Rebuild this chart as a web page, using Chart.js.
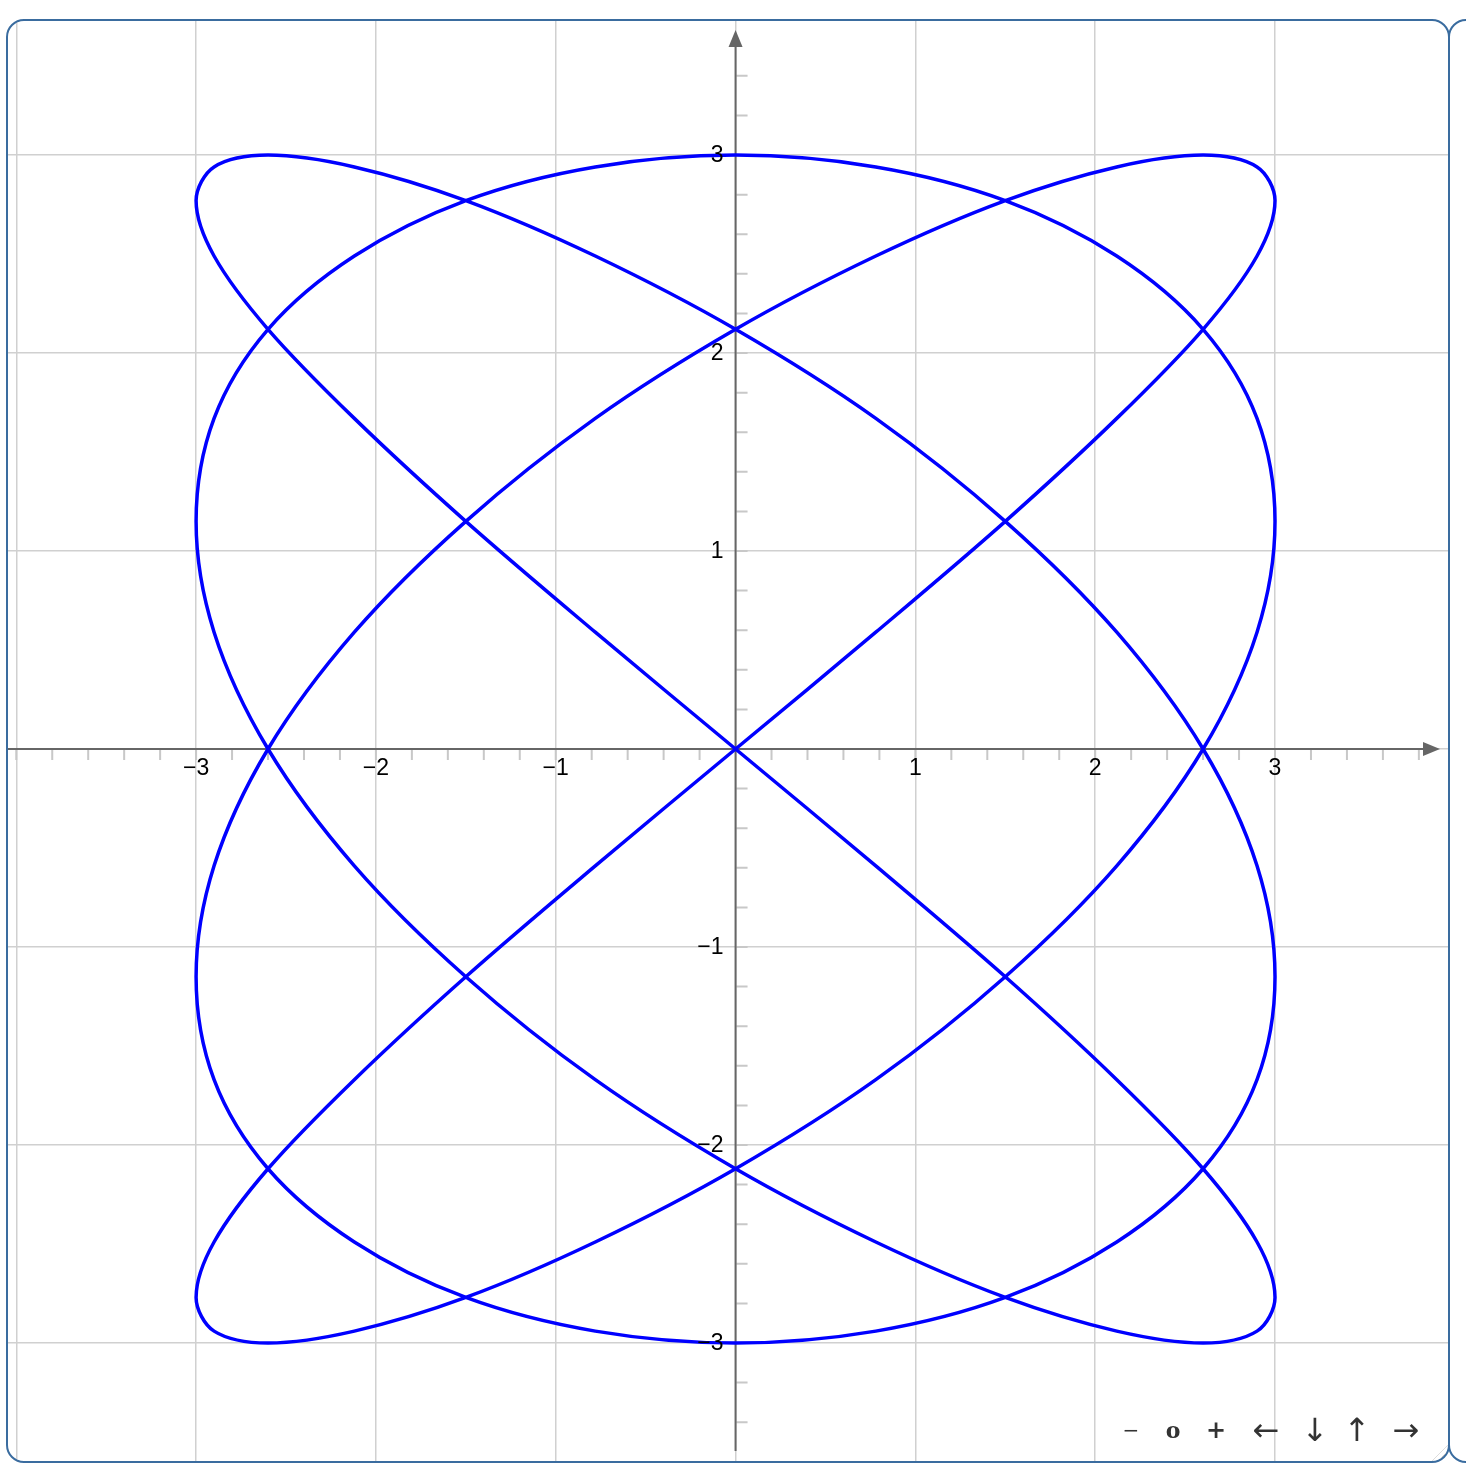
<!DOCTYPE html>
<html>
<head>
<meta charset="utf-8">
<script src="https://cdn.jsdelivr.net/npm/chart.js@4.4.1/dist/chart.umd.min.js"></script>
<style>
  html, body { margin: 0; padding: 0; background: #fff; }
  .board {
    position: absolute; left: 6px; top: 19px; width: 1444px; height: 1444px;
    box-sizing: border-box; border: 2px solid #3a6c9f; border-radius: 18px;
    overflow: hidden; background: #fff;
  }
  .board2 {
    position: absolute; left: 1448px; top: 19px; width: 400px; height: 1444px;
    box-sizing: border-box; border: 2px solid #3a6c9f; border-radius: 18px;
  }
  #wrap { position: absolute; left: 0; top: 0; width: 1440px; height: 1440px; }
  .nav {
    position: absolute; top: 1409px; transform: translate(-50%, -50%);
    font-family: "DejaVu Serif", serif; color: #333; line-height: 1;
  }
  .nav.arr { font-family: "DejaVu Sans", sans-serif; font-size: 32px; }
  .grip {
    position: absolute; right: 0; bottom: 0; width: 16px; height: 16px;
    background: repeating-linear-gradient(135deg, transparent 0 3px, #bbb 3px 4px);
    clip-path: polygon(100% 0, 100% 100%, 0 100%);
  }
</style>
</head>
<body>
<div class="board2"></div>
<div class="board">
  <div id="wrap"><canvas id="lissajous"></canvas></div>
  <span class="nav" style="left:1123px; font-size:20px">&#8722;</span>
  <span class="nav" style="left:1165px; font-size:22px; font-weight:bold">o</span>
  <span class="nav" style="left:1208px; font-size:24px; font-weight:bold">+</span>
  <span class="nav arr" style="left:1258px">&#8592;</span>
  <span class="nav arr" style="left:1307px">&#8595;</span>
  <span class="nav arr" style="left:1349px">&#8593;</span>
  <span class="nav arr" style="left:1398px">&#8594;</span>
  <div class="grip"></div>
</div>
<script>
// curve points
var xs = [0, 0.78, 1.5, 2.12, 2.6, 2.9, 3, 2.9, 2.6, 2.12, 1.5, 0.78,
          0, -0.78, -1.5, -2.12, -2.6, -2.9, -3, -2.9, -2.6, -2.12, -1.5, -0.78,
          0, 0.78, 1.5, 2.12, 2.6, 2.9, 3, 2.9, 2.6, 2.12, 1.5, 0.78,
          0, -0.78, -1.5, -2.12, -2.6, -2.9, -3, -2.9, -2.6, -2.12, -1.5, -0.78,
          0, 0.78, 1.5, 2.12, 2.6, 2.9, 3, 2.9, 2.6, 2.12, 1.5, 0.78,
          0, -0.78, -1.5, -2.12, -2.6, -2.9, -3, -2.9, -2.6, -2.12, -1.5, -0.78,
          0, 0.78, 1.5, 2.12, 2.6, 2.9, 3, 2.9, 2.6, 2.12, 1.5, 0.78,
          0, -0.78, -1.5, -2.12, -2.6, -2.9, -3, -2.9, -2.6, -2.12, -1.5, -0.78,
          0];
var ys = [0, 0.59, 1.15, 1.67, 2.12, 2.49, 2.77, 2.94, 3, 2.94, 2.77, 2.49, 2.12, 1.67, 1.15, 0.59,
          0, -0.59, -1.15, -1.67, -2.12, -2.49, -2.77, -2.94, -3, -2.94, -2.77, -2.49, -2.12, -1.67, -1.15, -0.59,
          0, 0.59, 1.15, 1.67, 2.12, 2.49, 2.77, 2.94, 3, 2.94, 2.77, 2.49, 2.12, 1.67, 1.15, 0.59,
          0, -0.59, -1.15, -1.67, -2.12, -2.49, -2.77, -2.94, -3, -2.94, -2.77, -2.49, -2.12, -1.67, -1.15, -0.59,
          0, 0.59, 1.15, 1.67, 2.12, 2.49, 2.77, 2.94, 3, 2.94, 2.77, 2.49, 2.12, 1.67, 1.15, 0.59,
          0, -0.59, -1.15, -1.67, -2.12, -2.49, -2.77, -2.94, -3, -2.94, -2.77, -2.49, -2.12, -1.67, -1.15, -0.59,
          0];

var xTickLabels = [-3, -2, -1, 1, 2, 3];
var yTickLabels = [-3, -2, -1, 1, 2, 3];

var points = [];
for (var i = 0; i < xs.length; i++) {
    points.push({x: xs[i], y: ys[i]});
}

function fmt(v) {
    return v < 0 ? '\u2212' + Math.abs(v) : String(v);
}

var axesPlugin = {
    id: 'centerAxes',
    beforeDatasetsDraw: function(chart) {
        var ctx = chart.ctx, xs_ = chart.scales.x, ys_ = chart.scales.y;
        var area = chart.chartArea;
        var x0 = xs_.getPixelForValue(0), y0 = ys_.getPixelForValue(0);
        ctx.save();
        // minor ticks
        ctx.strokeStyle = '#c8c8c8';
        ctx.lineWidth = 2;
        ctx.beginPath();
        for (var k = -20; k <= 20; k++) {
            if (k === 0) continue;
            var v = k * 0.2;
            var px = xs_.getPixelForValue(v);
            if (px > area.left && px < area.right - 20) {
                ctx.moveTo(px, y0); ctx.lineTo(px, y0 + 11);
            }
            var py = ys_.getPixelForValue(v);
            if (py > area.top + 20 && py < area.bottom) {
                ctx.moveTo(x0, py); ctx.lineTo(x0 + 12, py);
            }
        }
        ctx.stroke();
        // axis lines
        ctx.strokeStyle = '#666';
        ctx.fillStyle = '#666';
        ctx.lineWidth = 2;
        ctx.beginPath();
        ctx.moveTo(area.left, y0); ctx.lineTo(area.right - 20, y0);
        ctx.moveTo(x0, area.bottom - 10); ctx.lineTo(x0, area.top + 20);
        ctx.stroke();
        // arrow heads
        var tipX = area.right - 8;
        ctx.beginPath();
        ctx.moveTo(tipX, y0); ctx.lineTo(tipX - 17, y0 - 7); ctx.lineTo(tipX - 17, y0 + 7);
        ctx.closePath(); ctx.fill();
        var tipY = area.top + 9;
        ctx.beginPath();
        ctx.moveTo(x0, tipY); ctx.lineTo(x0 - 7, tipY + 17); ctx.lineTo(x0 + 7, tipY + 17);
        ctx.closePath(); ctx.fill();
        ctx.restore();
    },
    afterDatasetsDraw: function(chart) {
        var ctx = chart.ctx, xs_ = chart.scales.x, ys_ = chart.scales.y;
        var x0 = xs_.getPixelForValue(0), y0 = ys_.getPixelForValue(0);
        ctx.save();
        ctx.fillStyle = '#000';
        ctx.font = '23px "Liberation Sans", Arial, sans-serif';
        ctx.textBaseline = 'middle';
        ctx.textAlign = 'center';
        xTickLabels.forEach(function(v) {
            ctx.fillText(fmt(v), xs_.getPixelForValue(v), y0 + 20);
        });
        ctx.textAlign = 'right';
        yTickLabels.forEach(function(v) {
            ctx.fillText(fmt(v), x0 - 12, ys_.getPixelForValue(v) + 1);
        });
        ctx.restore();
    }
};

var canvas = document.getElementById('lissajous');
var chart = new Chart(canvas, {
    type: 'scatter',
    data: {
        datasets: [{
            data: points,
            showLine: true,
            fill: false,
            borderColor: '#0000ff',
            borderWidth: 3.5,
            pointRadius: 0,
            tension: 0.33
        }]
    },
    options: {
        responsive: true,
        maintainAspectRatio: false,
        animation: false,
        layout: { padding: 0 },
        plugins: { legend: { display: false }, tooltip: { enabled: false } },
        scales: {
            x: {
                type: 'linear',
                min: -4.046, max: 3.962,
                ticks: { display: false, stepSize: 1, includeBounds: false },
                grid: { color: '#d0d0d0', lineWidth: 1.5, drawTicks: false },
                border: { display: false }
            },
            y: {
                type: 'linear',
                min: -3.596, max: 3.677,
                ticks: { display: false, stepSize: 1, includeBounds: false },
                grid: { color: '#d0d0d0', lineWidth: 1.5, drawTicks: false },
                border: { display: false }
            }
        }
    },
    plugins: [axesPlugin]
});
</script>
</body>
</html>
